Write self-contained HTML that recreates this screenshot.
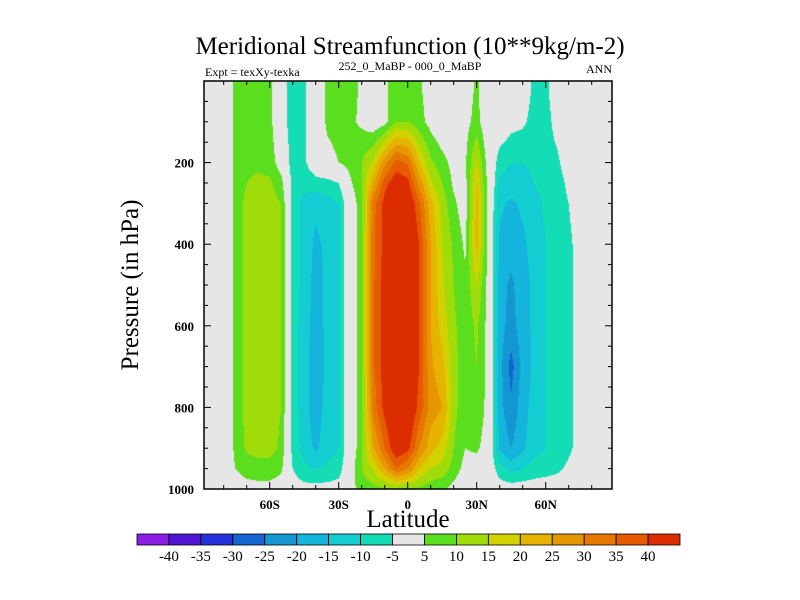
<!DOCTYPE html>
<html><head><meta charset="utf-8"><style>
body{margin:0;background:#fff;width:800px;height:600px;overflow:hidden;font-family:"Liberation Serif",serif}
</style></head><body>
<svg id="svg" width="800" height="600" style="position:absolute;left:0;top:0">
<text x="410" y="54" font-size="25" text-anchor="middle">Meridional Streamfunction (10**9kg/m-2)</text>
<text x="205" y="76" font-size="12">Expt = texXy-texka</text>
<text x="410" y="70" font-size="12" text-anchor="middle">252_0_MaBP - 000_0_MaBP</text>
<text x="612" y="73" font-size="12" text-anchor="end">ANN</text>
<text x="408" y="527" font-size="25" text-anchor="middle">Latitude</text>
<text transform="translate(138,285) rotate(-90)" font-size="25" text-anchor="middle">Pressure (in hPa)</text>
<g id="axes"></g><g id="cbar"></g>
</svg>
<canvas id="field" width="408" height="408" style="position:absolute;left:204px;top:81px"></canvas>
<svg width="800" height="600" style="position:absolute;left:0;top:0;pointer-events:none"><g id="frame"></g></svg>
<script>
const lats=[-90,-85,-80,-75,-70,-65,-60,-55,-50,-45,-40,-35,-30,-25,-20,-15,-10,-5,0,5,10,15,20,25,30,35,40,45,50,55,60,65,70,75,80,85,90];
const pressures=[20,100,200,250,300,400,500,600,700,800,900,950,1000];
const p20 =[0,0,0,6,9,8,7,-2,-8,-6,0,6,7,7,4,1,3,10,9,6,2,0,-1,2,6,0,0,0,-2,-6,-6,-2,0,0,0,0,0];
const p100=[0,0,0,6,9,8,7,-2,-8,-6,0,6,7,6,4,1,3,10,10,7,3,0,0,3,7,0,0,-3,-4,-7,-7,-3,0,0,0,0,0];
const p200=[0,0,0,6,9,9,8,2,-8,-6,-1,3,5,7,10,16,28,37,34,20,11,7,3,4,16,2,-8,-10,-10,-9,-7,-6,-2,0,0,0,0];
const p250=[0,0,0,6,10,11,11,7,-7,-8,-7,-7,-5,4,10,24,38,44,42,28,16,10,4,3,20,3,-11,-12,-12,-10,-8,-7,-4,-1,0,0,0];
const p300=[0,0,0,6,12,12,12,10,-7,-12,-14,-12,-10,0,9,33,42,47,46,36,22,13,6,2,22,3,-14,-16,-14,-12,-9,-7,-5,-2,0,0,0];
const p400=[0,0,0,6,12,13,13,10,-7,-12,-16,-14,-10,0,9,34,42,48,48,40,25,15,9,4,22,3,-16,-18,-16,-13,-10,-8,-6,-3,0,0,0];
const p500=[0,0,0,6,12,13,13,10,-7,-12,-17,-14,-10,0,9,34,43,48,48,40,25,16,10,6,15,3,-18,-21,-17,-14,-10,-8,-6,-3,0,0,0];
const p600=[0,0,0,6,12,13,13,10,-7,-13,-17,-14,-10,0,9,34,43,48,48,40,25,18,11,7,11,3,-18,-22,-17,-14,-10,-8,-6,-3,0,0,0];
const p700=[0,0,0,6,12,13,13,10,-7,-13,-18,-14,-10,0,9,34,43,48,48,40,26,22,12,7,10,3,-18,-27,-18,-14,-10,-8,-6,-3,0,0,0];
const p800=[0,0,0,6,12,13,13,10,-7,-13,-18,-13,-10,0,9,32,42,48,48,38,28,25,12,6,9,3,-18,-24,-17,-13,-10,-8,-6,-3,0,0,0];
const p900=[0,0,0,6,11,12,12,9,-7,-12,-16,-12,-10,0,9,24,35,45,42,30,22,18,10,5,6,2,-16,-20,-16,-12,-10,-8,-6,-3,0,0,0];
const p950=[0,0,0,5,7,8,8,6,-5,-9,-10,-9,-8,2,10,16,25,35,30,20,15,13,8,3,2,0,-8,-12,-10,-8,-7,-6,-4,-1,0,0,0];
const p1000=[0,0,0,2,3,3,3,2,-2,-3,-3,-3,-2,3,7,8,9,10,10,9,7,6,3,1,0,0,-2,-2,-2,-2,-2,-2,-1,0,0,0,0];
const values=[p20,p100,p200,p250,p300,p400,p500,p600,p700,p800,p900,p950,p1000];
const levels=[-40,-35,-30,-25,-20,-15,-10,-5,5,10,15,20,25,30,35,40];
const colors=["#8c1ee6","#5014d2","#2832dc","#1464d2","#1496d2","#14b4dc","#14cdd2","#14dcb4","#e6e6e6","#5ade1e","#a0dc0a","#d2d200","#e6b400","#e69600","#e67800","#e65a00","#dc2d00"];
const yTicks=[200,400,600,800,1000];
const xTicks=[-60,-30,0,30,60];
const xTickLabels=["60S","30S","0","30N","60N"];

const L=204,T=81,W=408,H=408;
const xOf=lat=>407.7+lat*2.3;
const latOf=x=>(x-407.7)/2.3;
const yOf=p=>T+p/1000*H;
const pOf=y=>(y-T)/H*1000;
function idx(arr,v){let i=0;while(i<arr.length-2&&arr[i+1]<v)i++;return i;}
function sample(lat,p){
  lat=Math.max(lats[0],Math.min(lats[lats.length-1],lat));
  p=Math.max(pressures[0],Math.min(pressures[pressures.length-1],p));
  const i=idx(lats,lat),j=idx(pressures,p);
  const tx=(lat-lats[i])/(lats[i+1]-lats[i]),ty=(p-pressures[j])/(pressures[j+1]-pressures[j]);
  const a=values[j][i],b=values[j][i+1],c=values[j+1][i],d=values[j+1][i+1];
  return (a*(1-tx)+b*tx)*(1-ty)+(c*(1-tx)+d*tx)*ty;
}
function colorOf(v){let k=0;while(k<levels.length&&v>=levels[k])k++;return colors[k];}
const ctx=document.getElementById('field').getContext('2d');
for(let y=0;y<H;y++){for(let x=0;x<W;x++){
  ctx.fillStyle=colorOf(sample(latOf(L+x+0.5),pOf(T+y+0.5)));ctx.fillRect(x,y,1,1);
}}
const NS="http://www.w3.org/2000/svg";
function mk(tag,attrs,parent){const e=document.createElementNS(NS,tag);for(const k in attrs)e.setAttribute(k,attrs[k]);parent.appendChild(e);return e;}
const fr=document.getElementById('frame');
let box=mk('rect',{x:L,y:T,width:W,height:H,fill:'none',stroke:'#000','stroke-width':1.5},fr);


for(let p=50;p<1000;p+=50){const y=yOf(p),len=(p%200===0)?7:4;
  mk('line',{x1:L,y1:y,x2:L+len,y2:y,stroke:'#000'},fr);mk('line',{x1:L+W,y1:y,x2:L+W-len,y2:y,stroke:'#000'},fr);}
for(let lat=-80;lat<=80;lat+=10){const x=xOf(lat),len=(lat%30===0)?7:4;
  mk('line',{x1:x,y1:T+H,x2:x,y2:T+H-len,stroke:'#000'},fr);mk('line',{x1:x,y1:T,x2:x,y2:T+len,stroke:'#000'},fr);}
const ax=document.getElementById('axes');
yTicks.forEach(p=>{const t=mk('text',{x:L-10,y:yOf(p)+5,'font-size':13,'font-weight':'bold','text-anchor':'end'},ax);t.textContent=p;
  
  });
xTicks.forEach((lat,i)=>{const t=mk('text',{x:xOf(lat),y:T+H+20,'font-size':13,'font-weight':'bold','text-anchor':'middle'},ax);t.textContent=xTickLabels[i];
  
  });
const cb=document.getElementById('cbar');
const cx0=137,cx1=680,cw=(cx1-cx0)/colors.length;
colors.forEach((c,i)=>{const r=mk('rect',{x:cx0+i*cw,y:534,width:cw,height:11,fill:c,stroke:'#000','stroke-width':0.8},cb);
  
  });
levels.forEach((lv,i)=>{const t=mk('text',{x:cx0+(i+1)*cw,y:561,'font-size':15,'text-anchor':'middle'},cb);t.textContent=lv;
  
  });
</script>
</body></html>
